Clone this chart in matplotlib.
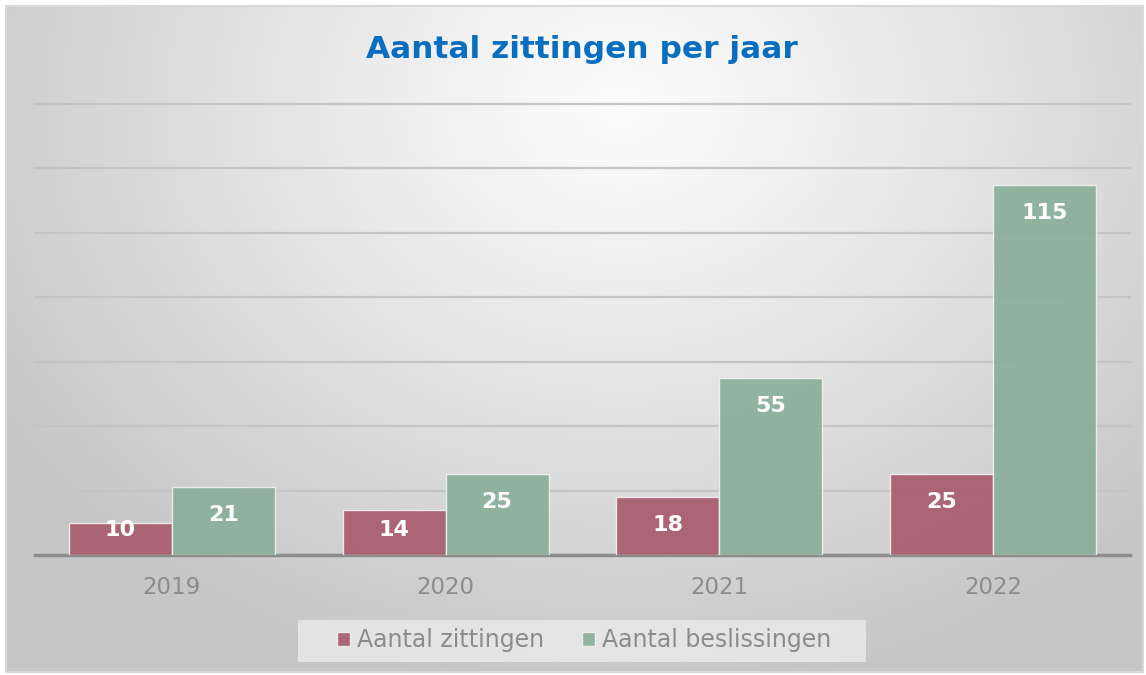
import numpy as np
import matplotlib
matplotlib.use("Agg")
import matplotlib.pyplot as plt
from matplotlib.patches import Rectangle

years = ["2019", "2020", "2021", "2022"]
zittingen = [10, 14, 18, 25]
beslissingen = [21, 25, 55, 115]
series_names = ["Aantal zittingen", "Aantal beslissingen"]
title = "Aantal zittingen per jaar"

W, H = 1146, 675
fig = plt.figure(figsize=(W / 100, H / 100), dpi=100)
fig.patch.set_facecolor("white")

# background panel with radial gradient
bg = fig.add_axes([0, 0, 1, 1], zorder=0)
bg.set_xlim(0, W)
bg.set_ylim(H, 0)
bg.axis("off")
yy, xx = np.mgrid[0:H, 0:W]
cx, cy = 620, 100
d = np.sqrt(((xx - cx) / 760.0) ** 2 + ((yy - cy) / 620.0) ** 2)
val = np.clip(0.99 - 0.22 * d ** 1.1, 0.78, 1.0)
img = np.dstack([val, val, val])
bg.imshow(img, extent=(6, 1143, 672, 6), aspect="auto", interpolation="bilinear")
bg.add_patch(Rectangle((6, 6), 1137, 666, fill=False, edgecolor="#D9D9D9", lw=1.5))
# legend backdrop
bg.add_patch(Rectangle((298, 620), 568, 42, facecolor="#EDEDED", alpha=0.75, edgecolor="none"))

ax = fig.add_axes([35 / W, 1 - 555 / H, (1130 - 35) / W, (555 - 104) / H], zorder=1)
ax.patch.set_alpha(0)
x = np.arange(len(years))
bw = 0.376
c_red = "#A7596B"
c_green = "#88AE98"
b1 = ax.bar(x - bw / 2, zittingen, bw, color=c_red, alpha=0.9, edgecolor="#F2F2F2", lw=1.0, zorder=3,
            label=series_names[0])
b2 = ax.bar(x + bw / 2, beslissingen, bw, color=c_green, alpha=0.9, edgecolor="#F2F2F2", lw=1.0, zorder=3,
            label=series_names[1])

ax.set_xlim(-0.5, 3.5)
ax.set_ylim(0, 140)
ax.set_yticks(np.arange(0, 141, 20))
ax.yaxis.grid(True, color="#C4C4C4", lw=1.6, zorder=0)
for gl in ax.get_ygridlines():
    gl.set_clip_on(False)
ax.set_axisbelow(True)
ax.tick_params(axis="y", left=False, labelleft=False)
ax.set_xticks(x)
ax.set_xticklabels(years, fontsize=16.5, color="#8C8C8C")
ax.tick_params(axis="x", length=0, pad=15)
for s in ["left", "right", "top"]:
    ax.spines[s].set_visible(False)
ax.spines["bottom"].set_color("#8C8C8C")
ax.spines["bottom"].set_linewidth(2.5)

for xs, vals in [(x - bw / 2, zittingen), (x + bw / 2, beslissingen)]:
    for xi, v in zip(xs, vals):
        yl = max(v - 8.7, 7.7)
        ax.text(xi, yl, str(v), ha="center", va="center", color="white",
                fontsize=16, fontweight="bold", zorder=5)

fig.text(582 / W, 1 - 50 / H, title, ha="center", va="center", fontsize=22.5,
         fontweight="bold", color="#0A6EC0")

leg = fig.legend(handles=[b1, b2], labels=series_names, loc="center",
                 bbox_to_anchor=(584 / W, 1 - 640 / H), ncol=2, frameon=False,
                 fontsize=17, handlelength=0.55, handleheight=0.55, handletextpad=0.3,
                 columnspacing=1.6, borderpad=0.3)
for t in leg.get_texts():
    t.set_color("#8C8C8C")

fig.savefig("out.png", dpi=100, facecolor="white")
